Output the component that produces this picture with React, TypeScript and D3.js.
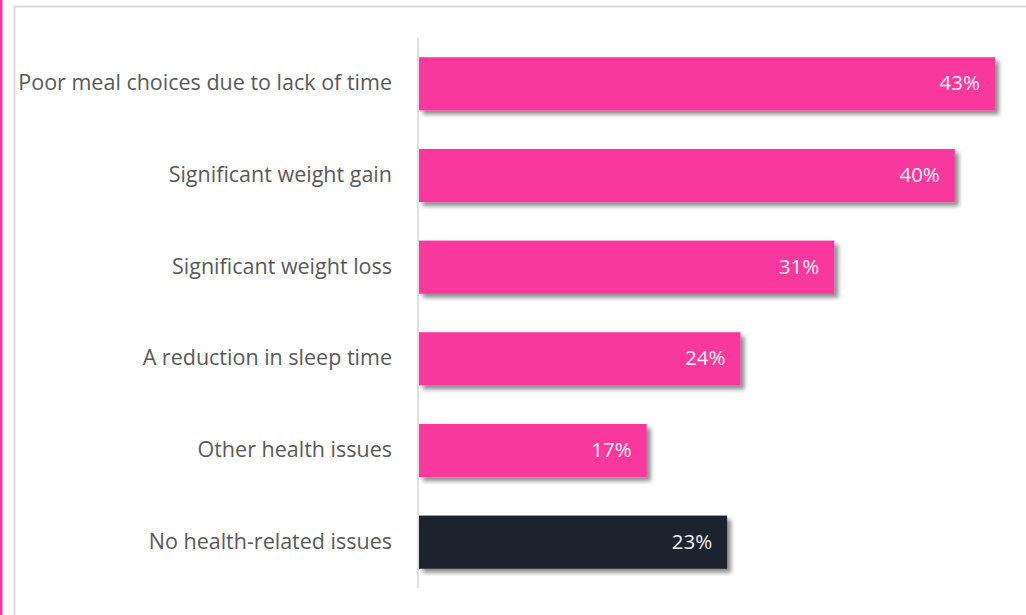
import React from "react";
import * as d3 from "d3";

const categories = [
  "Poor meal choices due to lack of time",
  "Significant weight gain",
  "Significant weight loss",
  "A reduction in sleep time",
  "Other health issues",
  "No health-related issues",
];
const values = [43, 40, 31, 24, 17, 23];
const highlight = [false, false, false, false, false, true];

const W = 1026;
const H = 615;
const FONT = "'Source Sans Pro', 'Open Sans', sans-serif";

export default function App() {
  const x = d3.scaleLinear().domain([0, 43]).range([419, 995]);
  const y = d3
    .scaleBand<string>()
    .domain(categories)
    .range([38, 588])
    .paddingInner(0.42)
    .paddingOuter(0.21);

  return (
    <svg
      width={W}
      height={H}
      style={{ position: "absolute", left: 0, top: 0, background: "#fff" }}
    >
      <defs>
        <filter id="sh" x="-10%" y="-30%" width="130%" height="180%">
          <feGaussianBlur in="SourceAlpha" stdDeviation="2" />
          <feOffset dx="4" dy="4" result="ob" />
          <feComponentTransfer>
            <feFuncA type="linear" slope="0.45" />
          </feComponentTransfer>
          <feMerge>
            <feMergeNode />
            <feMergeNode in="SourceGraphic" />
          </feMerge>
        </filter>
      </defs>
      <rect x={0} y={0} width={2.5} height={H} fill="#F8379D" />
      <line x1={14.5} x2={14.5} y1={6} y2={H} stroke="#dcdcdc" strokeWidth={2} />
      <line x1={14} x2={W} y1={6.5} y2={6.5} stroke="#dcdcdc" strokeWidth={2} />
      <line x1={418} x2={418} y1={38} y2={588} stroke="#d9d9d9" strokeWidth={1.5} />
      {categories.map((c, i) => {
        const by = y(c)!;
        const bh = y.bandwidth();
        return (
          <g key={c}>
            <rect
              x={x(0)}
              y={by}
              width={x(values[i]) - x(0)}
              height={bh}
              fill={highlight[i] ? "#1F212D" : "#F8379D"}
              filter="url(#sh)"
            />
            <text
              x={x(values[i]) - 15}
              y={by + bh / 2}
              dy="0.32em"
              textAnchor="end"
              fill="#f3f3f3"
              fontFamily={FONT}
              fontSize={20.5}
            >
              {values[i]}%
            </text>
            <text
              x={392}
              y={by + bh / 2}
              dy="0.3em"
              textAnchor="end"
              fill="#595959"
              fontFamily={FONT}
              fontSize={21.5}
            >
              {c}
            </text>
          </g>
        );
      })}
    </svg>
  );
}
